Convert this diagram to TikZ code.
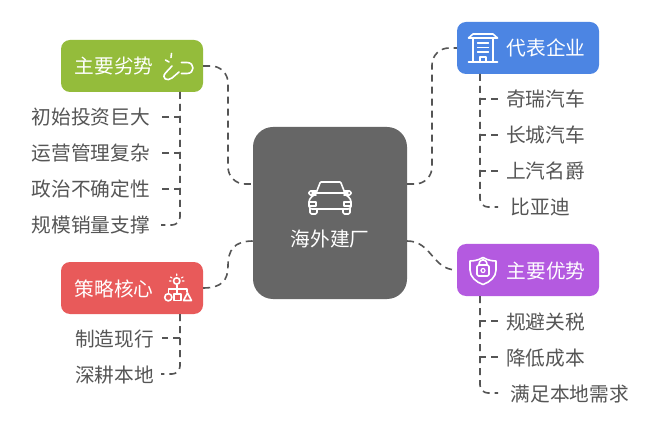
\documentclass[tikz,border=0pt]{standalone}
\usepackage{fontspec}
\setmainfont{Noto Sans CJK SC}
\definecolor{ink}{HTML}{555555}
\definecolor{cgreen}{HTML}{94BC3B}
\definecolor{cblue}{HTML}{4C85E3}
\definecolor{cpurple}{HTML}{B45AE0}
\definecolor{cred}{HTML}{E85A5A}
\definecolor{cmain}{HTML}{666666}
\tikzset{
  topicbox/.style={fill=#1,draw=none,rounded corners=9pt,minimum width=142pt,minimum height=52pt,inner sep=0pt},
  conn/.style={draw=ink,line width=1.6pt,dash pattern=on 7pt off 5pt},
  leaf/.style={text=ink,font=\fontsize{19.7pt}{22pt}\selectfont,inner sep=0pt,text height=18pt,text depth=2pt},
  title/.style={text=white,font=\fontsize{19.7pt}{22pt}\selectfont,inner sep=0pt,text height=18pt,text depth=2pt},
  icon/.style={draw=white,line width=1.6pt,line cap=round,line join=round},
  iconthin/.style={draw=white,line width=1.2pt,line cap=round,line join=round}
}
\begin{document}
\begin{tikzpicture}[x=1pt,y=-1pt]
\useasboundingbox (0,0) rectangle (660,435);
\fill[white] (0,0) rectangle (660,435);
% nodes
\node[fill=cmain,rounded corners=20pt,minimum width=154pt,minimum height=172pt,inner sep=0pt] (main) at (330,213) {};
\node[topicbox=cgreen] (green) at (132,66) {};
\node[topicbox=cred] (red) at (132,288) {};
\node[topicbox=cblue] (blue) at (528,48) {};
\node[topicbox=cpurple] (purple) at (528,270) {};
\coordinate (mUL) at (253,184);
\coordinate (mLL) at (253,241);
\coordinate (mUR) at (407,184);
\coordinate (mLR) at (407,241);
% titles
\node[title,anchor=center] (tmain) at (330,239) {海外建厂};
\node[title] (tgreen) at (114,66) {主要劣势};
\node[title] (tred) at (114,288) {策略核心};
\node[title] (tblue) at (546,48) {代表企业};
\node[title] (tpurple) at (546,270) {主要优势};
% leaves
\node[leaf,anchor=east] (g1) at (150,117) {初始投资巨大};
\node[leaf,anchor=east] (g2) at (150,153) {运营管理复杂};
\node[leaf,anchor=east] (g3) at (150,189) {政治不确定性};
\node[leaf,anchor=east] (g4) at (150,225) {规模销量支撑};
\node[leaf,anchor=east] (r1) at (154,338) {制造现行};
\node[leaf,anchor=east] (r2) at (154,374) {深耕本地};
\node[leaf,anchor=west] (b1) at (506,99) {奇瑞汽车};
\node[leaf,anchor=west] (b2) at (506,135) {长城汽车};
\node[leaf,anchor=west] (b3) at (506,171) {上汽名爵};
\node[leaf,anchor=west] (b4) at (510.5,207) {比亚迪};
\node[leaf,anchor=west] (p1) at (506,321) {规避关税};
\node[leaf,anchor=west] (p2) at (506,357) {降低成本};
\node[leaf,anchor=west] (p3) at (510.5,393) {满足本地需求};
% main connectors
\draw[conn,rounded corners=17pt] (green.east) -- (228,66) -- (228,184) -- (mUL);
\draw[conn,rounded corners=17pt] (mUR) -- (432,184) -- (432,48) -- (blue.west);
\draw[conn] (red.east) .. controls (222,288) and (228,280) .. (228,266) .. controls (228,250) and (234,241) .. (mLL);
\draw[conn] (mLR) .. controls (432,241) and (432,270) .. (purple.west);
% leaf connectors
\coordinate (gs) at (180,92);
\coordinate (rs) at (180,314);
\coordinate (bs) at (480,74);
\coordinate (ps) at (480,296);
\foreach \n in {g1,g2,g3} \draw[conn,shorten >=12pt] (gs) |- (\n.east);
\draw[conn,shorten >=11pt,rounded corners=8pt] (gs) |- (g4.east);
\draw[conn,shorten >=8pt] (rs) |- (r1.east);
\draw[conn,shorten >=7pt,rounded corners=8pt] (rs) |- (r2.east);
\foreach \n in {b1,b2,b3} \draw[conn,shorten >=8pt] (bs) |- (\n.west);
\draw[conn,shorten >=12.5pt,rounded corners=8pt] (bs) |- (b4.west);
\foreach \n in {p1,p2} \draw[conn,shorten >=8pt] (ps) |- (\n.west);
\draw[conn,shorten >=12.5pt,rounded corners=8pt] (ps) |- (p3.west);
% car icon
\draw[icon] (316,193.3) -- (320,183) -- (321,182) -- (340,182) -- (341,183) -- (345,193.3);
\draw[icon] (312,193.3) -- (348,193.3);
\draw[icon,rounded corners=1.5pt] (316,191) -- (309,191) -- (309,195) -- (316,195);
\draw[icon,rounded corners=1.5pt] (344,191) -- (351,191) -- (351,195) -- (344,195);
\draw[icon,rounded corners=3pt] (314,195) -- (309,199) -- (309,209) -- (351,209) -- (351,199) -- (346,195);
\draw[icon] (309,202) -- (316,202) -- (316,206) -- (309,206);
\draw[icon] (351,202) -- (344,202) -- (344,206) -- (351,206);
\draw[icon,rounded corners=1.5pt] (310,209) -- (310,214) -- (317,214) -- (317,209);
\draw[icon,rounded corners=1.5pt] (343,209) -- (343,214) -- (350,214) -- (350,209);
% broken link icon
\draw[icon] (181.5,62.5) -- (187,62.5) .. controls (195,62.5) and (195,73.5) .. (187,73.5) -- (181.5,73.5);
\draw[icon] (172,66) -- (165.5,73) .. controls (161,78) and (167,82) .. (172,78) -- (179,72);
\draw[icon] (171.5,53.5) -- (171,57.5);
\draw[icon] (165.5,60) -- (169,62);
% building icon
\draw[icon] (468.5,38) -- (473,34) -- (493,34) -- (497.5,38) -- cycle;
\draw[icon] (473,38) -- (473,62);
\draw[icon] (493,38) -- (493,62);
\draw[icon] (468.5,62) -- (497.5,62);
\draw[iconthin] (477.5,43) -- (488.5,43) (477.5,47.5) -- (488.5,47.5) (477.5,52) -- (488.5,52);
\draw[iconthin] (480,62) -- (480,57) -- (486,57) -- (486,62);
% shield lock icon
\draw[icon] (483,257.5) .. controls (478,260.5) and (473,261) .. (470,261) -- (470,270) .. controls (470,277) and (476,282) .. (483,284.5) .. controls (490,282) and (496,277) .. (496,270) -- (496,261) .. controls (493,261) and (488,260.5) .. (483,257.5) -- cycle;
\draw[icon,rounded corners=1.5pt] (477,265) rectangle (489,276);
\draw[icon] (479,265) .. controls (479,258) and (487,258) .. (487,265);
\draw[iconthin] (483,270.5) circle [radius=2];
% strategy icon
\draw[icon] (176.7,281) circle [radius=3.2];
\draw[iconthin] (176.7,274) -- (176.7,275.5) (170.5,277) -- (172,278) (183,277) -- (181.5,278) (169.5,281) -- (171,281) (184,281) -- (182.5,281);
\draw[icon] (176.7,285) -- (176.7,294);
\draw[icon] (168.5,293) -- (168.5,288.7) -- (187,288.7) -- (187,292);
\draw[icon] (168.3,297.3) circle [radius=3.6];
\draw[icon] (174,294) rectangle (181,300.5);
\draw[icon] (187.5,293) -- (191.5,300.5) -- (183.5,300.5) -- cycle;
\end{tikzpicture}
\end{document}
